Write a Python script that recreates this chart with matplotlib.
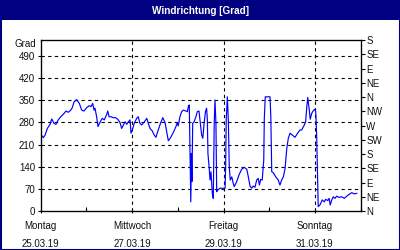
import matplotlib
matplotlib.use("Agg")
import matplotlib.pyplot as plt
from matplotlib.patches import Rectangle
from matplotlib.ticker import MultipleLocator, FixedLocator

# hours since Monday 25.03.19 00:00
hours = [0, 1.4, 2.3, 3.5, 4.9, 5.8, 7.0, 8.0, 9.2, 10.5, 11.9, 13.3, 14.5, 15.8, 16.6, 17.5,
         18.9, 20.3, 21.5, 22.7, 24.2, 25.5, 26.4, 27.3, 28.0, 28.5, 29.3, 30.1, 31.1, 32.3,
         33.4, 34.7, 35.2, 35.9, 36.9, 38.1, 39.4, 40.7, 41.6, 42.5, 43.4, 44.3, 45.2, 46.0,
         46.9, 47.4, 48.1, 49.1, 50.4, 51.2, 52.1, 53.0, 54.4, 55.7, 56.5, 57.4, 58.6, 59.6,
         60.5, 61.7, 63.0, 64.1, 65.3, 66.5, 67.0, 68.3, 69.6, 71.0, 71.7, 72.2, 73.1, 74.0,
         74.9, 76.3, 77.0, 77.5, 78.0, 78.4, 78.8, 79.1, 79.4, 79.8, 80.5, 81.5, 82.2, 83.1,
         83.6, 84.5, 85.1, 85.7, 86.5, 87.1, 87.5, 87.8, 88.4, 88.9, 89.4, 90.1, 90.6, 91.1,
         91.5, 92.0, 92.4, 92.9, 94.1, 95.9, 96.8, 97.1, 97.4, 98.0, 98.5, 99.0, 99.5, 100.3,
         101.1, 101.6, 102.9, 104.1, 105.5, 106.9, 108.2, 109.0, 109.9, 110.8, 111.6, 112.5,
         113.4, 114.2, 114.8, 115.5, 116.3, 117.1, 117.4, 117.9, 120.4, 120.8, 121.3, 122.1,
         123.4, 124.7, 125.6, 126.5, 127.4, 128.3, 129.2, 130.0, 130.9, 132.1, 133.5, 134.9,
         136.1, 137.0, 138.4, 139.1, 139.7, 140.2, 140.5, 141.0, 141.5, 142.3, 143.1, 143.9,
         144.4, 144.9, 145.4, 145.7, 146.6, 147.8, 148.9, 149.6, 150.7, 151.4, 152.0, 152.8,
         153.6, 154.5, 155.4, 156.6, 158.0, 159.4, 160.7, 161.5, 163.3, 164.6, 165.9]
degrees = [242, 232, 240, 261, 274, 291, 277, 274, 288, 298, 306, 316, 312, 319, 327, 345,
           352, 340, 319, 316, 327, 333, 330, 340, 319, 325, 300, 267, 280, 293,
           288, 306, 316, 298, 298, 295, 295, 288, 280, 261, 272, 282, 274, 282,
           288, 246, 256, 277, 293, 298, 277, 272, 282, 293, 277, 261, 253, 240,
           233, 256, 279, 295, 279, 240, 222, 233, 248, 267, 279, 269, 298, 314,
           319, 316, 314, 330, 335, 182, 29, 182, 93, 277, 282, 298, 314, 316,
           288, 240, 230, 272, 314, 325, 288, 182, 140, 98, 124, 56, 40, 277,
           351, 277, 61, 66, 72, 72, 72, 140, 288, 361, 288, 140, 98, 108,
           87, 77, 93, 114, 132, 138, 132, 108, 79, 72, 79, 75,
           98, 103, 82, 100, 98, 161, 293, 361, 361, 298, 124, 121,
           108, 98, 82, 98, 108, 135, 198, 230, 246, 240, 233, 246,
           256, 256, 272, 282, 330, 359, 345, 319, 290, 309, 317, 322,
           314, 235, 87, 14, 19, 35, 29, 37, 33, 40, 19, 35,
           45, 40, 47, 43, 45, 40, 47, 51, 58, 54, 56]

day_ticks = [0, 48, 96, 144]
day_labels = ["Montag\n25.03.19", "Mittwoch\n27.03.19", "Freitag\n29.03.19", "Sonntag\n31.03.19"]
left_ticks = [0, 70, 140, 210, 280, 350, 420, 490]
right_ticks = [0, 45, 90, 135, 180, 225, 270, 315, 360, 405, 450, 495, 540]
right_labels = ["N", "NE", "E", "SE", "S", "SW", "W", "NW", "N", "NE", "E", "SE", "S"]
title = "Windrichtung [Grad]"
unit = "Grad"

plt.rcParams['font.family'] = ['Liberation Sans', 'DejaVu Sans']
navy = "#000080"
txt = "#101010"

fig = plt.figure(figsize=(4, 2.5), dpi=100)
fig.patch.set_facecolor("white")

# title bar and border
fig.add_artist(Rectangle((0, 1 - 20 / 250), 1, 20 / 250, transform=fig.transFigure,
                         facecolor=navy, edgecolor="none", zorder=0))
fig.add_artist(Rectangle((0.5 / 400, 0.5 / 250), 399 / 400, 249 / 250, transform=fig.transFigure,
                         facecolor="none", edgecolor=navy, linewidth=1.5, zorder=5))
fig.text(0.5, 1 - 10.5 / 250, title, color="white", fontsize=7.2, fontweight="bold",
         ha="center", va="center")

ax = fig.add_axes([40.7 / 400, 1 - 211 / 250, 320 / 400, (211 - 40.2) / 250])
ax.plot(hours, degrees, color="#0000ff", linewidth=0.85, zorder=3)
ax.set_xlim(0, 168)
ax.set_ylim(0, 540)

ax.xaxis.set_major_locator(FixedLocator(day_ticks))
ax.set_xticklabels(day_labels)
ax.xaxis.set_minor_locator(MultipleLocator(24))
ax.yaxis.set_major_locator(FixedLocator(left_ticks))
ax.set_yticklabels([str(v) for v in left_ticks])

ax.tick_params(axis="x", which="major", length=3, width=0.8, direction="inout", colors="black",
               labelcolor=txt, labelsize=7, pad=6)
ax.tick_params(axis="x", which="minor", length=3, width=0.8, direction="in", colors="black")
ax.tick_params(axis="y", length=2, width=0.8, direction="out", labelcolor=txt, labelsize=7, pad=2)
for lab in ax.get_xticklabels():
    lab.set_linespacing(1.9)

# grid lines
for v in left_ticks[1:]:
    ax.axhline(v, color="black", linestyle=(0, (3, 3)), linewidth=0.8, zorder=1)
for d in day_ticks[1:]:
    ax.axvline(d, color="black", linestyle=(0, (3, 3)), linewidth=0.8, zorder=1)

for s in ax.spines.values():
    s.set_color("black")
    s.set_linewidth(0.9)

ax2 = ax.twinx()
ax2.set_ylim(0, 540)
ax2.yaxis.set_major_locator(FixedLocator(right_ticks))
ax2.set_yticklabels(right_labels)
ax2.tick_params(axis="y", length=3, width=0.8, direction="out", labelcolor=txt, labelsize=7, pad=1)

ax.text(-0.015, 1 - 4 / 170.8, unit, transform=ax.transAxes, ha="right", va="center",
        fontsize=7, color=txt)

fig.savefig("out.png", dpi=100)
